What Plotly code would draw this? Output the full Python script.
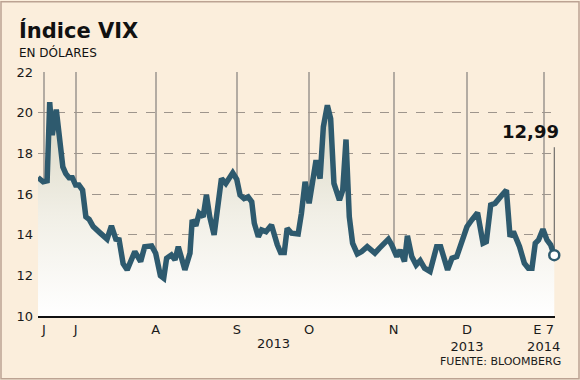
import plotly.graph_objects as go

# Trading-day index (from mid-June 2013) and VIX close values
day = [0.0, 1.4, 2.5, 3.2, 3.9, 5.0, 6.8, 7.6, 8.5, 9.4, 10.3, 11.2, 12.2, 13.1, 14.0,
       15.1, 16.9, 18.9, 20.1, 21.3, 22.2, 23.3, 24.4, 26.5, 28.1, 29.2, 31.1, 32.2,
       33.5, 34.4, 35.2, 36.5, 37.5, 38.4, 40.2, 41.6, 42.2, 43.2, 44.1, 45.2, 46.1,
       47.0, 48.2, 49.3, 50.2, 51.4, 52.1, 53.3, 54.4, 55.3, 56.4, 57.5, 58.5, 59.2,
       60.3, 61.2, 62.4, 63.9, 65.5, 66.4, 67.4, 68.2, 69.4, 70.3, 71.2, 72.1, 73.1,
       74.2, 75.3, 76.1, 77.2, 78.1, 79.2, 80.1, 81.0, 82.5, 83.4, 84.3, 85.2, 86.1,
       87.4, 88.6, 90.1, 91.3, 92.2, 93.4, 94.5, 95.9, 96.8, 98.2, 99.1, 100.3, 101.1,
       102.3, 103.5, 104.6, 105.8, 107.3, 109.1, 110.2, 112.1, 113.3, 114.6, 116.0,
       117.4, 118.7, 120.3, 121.8, 122.7, 123.9, 125.1, 127.0, 128.2, 129.2, 130.1,
       131.8, 133.1, 134.2, 135.2, 136.1, 137.0, 138.2, 139.3, 140.3, 141.3]
vix = [16.81, 16.60, 16.65, 20.52, 18.90, 20.15, 17.33, 17.00, 16.80, 16.80, 16.44,
       16.44, 16.19, 14.88, 14.75, 14.40, 14.10, 13.78, 14.43, 13.78, 13.75, 12.57,
       12.27, 13.17, 12.68, 13.41, 13.45, 13.09, 11.98, 11.86, 12.84, 13.00, 12.76,
       13.41, 12.27, 13.09, 14.72, 14.43, 15.05, 14.88, 15.95, 14.88, 13.99, 15.54,
       16.76, 16.52, 16.72, 17.04, 16.72, 15.95, 15.78, 15.86, 15.62, 14.56, 13.90,
       14.23, 14.15, 14.48, 13.50, 13.12, 13.12, 14.31, 14.07, 14.03, 14.03, 15.05,
       16.60, 15.54, 16.76, 17.66, 16.76, 19.30, 20.36, 19.70, 16.52, 15.70, 16.19,
       18.68, 14.88, 13.58, 13.05, 13.17, 13.41, 13.17, 13.09, 13.33, 13.50, 13.78,
       13.50, 12.92, 13.25, 12.68, 13.94, 12.92, 12.51, 12.72, 12.35, 12.19, 13.41,
       13.41, 12.27, 12.84, 12.92, 13.58, 14.39, 14.72, 15.08, 13.58, 13.66, 15.46,
       15.54, 15.95, 16.19, 13.90, 14.15, 13.41, 12.60, 12.35, 12.35, 13.58, 13.74,
       14.27, 13.74, 13.50, 12.99]

month_ticks = [1.6, 10.3, 32.2, 54.4, 74.2, 97.3, 117.4, 138.4]
month_labels = ["J", "J", "A", "S", "O", "N", "D<br>2013", "E 7<br>2014"]
y_ticks = [10, 12, 14, 16, 18, 20, 22]
last_label = "12,99"

BG = "#FBEEDC"
LINE = "#2E5A6E"
FONT = "DejaVu Sans"

fig = go.Figure()
fig.add_trace(go.Scatter(
    x=day, y=vix, mode="lines", fill="tozeroy",
    line=dict(color=LINE, width=5.5, shape="linear"),
    fillgradient=dict(type="vertical", start=10, stop=21,
                      colorscale=[[0, "#FFFFFF"], [0.45, "#F1EFE6"], [1, "#D6D3BE"]]),
    hoverinfo="skip", showlegend=False,
))
fig.add_trace(go.Scatter(
    x=[day[-1]], y=[vix[-1]], mode="markers", cliponaxis=False,
    marker=dict(size=10, color="white", line=dict(color=LINE, width=2.5)),
    showlegend=False, hoverinfo="skip",
))

L, R, T, B = 38, 25, 71.5, 64
W, H = 580, 380
pw, ph = W - L - R, H - T - B

fig.update_layout(
    width=W, height=H,
    margin=dict(l=L, r=R, t=T, b=B, autoexpand=False),
    paper_bgcolor=BG, plot_bgcolor=BG,
    font=dict(family=FONT, size=13, color="#1A1A1A"),
    xaxis=dict(range=[0, 141.5], tickvals=month_ticks, ticktext=month_labels,
               showgrid=True, gridcolor="#B3ABA2", gridwidth=1.5, automargin=False,
               showline=True, linecolor="#111111", linewidth=2,
               ticks="", zeroline=False, tickfont=dict(size=13)),
    yaxis=dict(range=[10, 22], tickvals=y_ticks, showgrid=True, automargin=False,
               gridcolor="#9E958C", gridwidth=1, griddash="dash",
               zeroline=False, showline=False, ticks="", ticklabelstandoff=4,
               tickfont=dict(size=13)),
    shapes=[
        dict(type="rect", xref="paper", yref="paper",
             x0=-(L - 1) / pw, x1=1 + (R - 1) / pw,
             y0=-(B - 1) / ph, y1=1 + (T - 1) / ph,
             line=dict(color="#BCA393", width=1.5), fillcolor="rgba(0,0,0,0)"),
        dict(type="line", xref="x", yref="y", x0=day[-1], x1=day[-1],
             y0=vix[-1], y1=18.3, line=dict(color="#555555", width=1), layer="below"),
    ],
    annotations=[
        dict(text="<b>Índice VIX</b>", xref="paper", yref="paper",
             x=-(L - 17) / pw, y=1 + (T - 30) / ph, xanchor="left", yanchor="middle",
             showarrow=False, font=dict(size=21, color="#111111", family=FONT)),
        dict(text="EN DÓLARES", xref="paper", yref="paper",
             x=-(L - 17) / pw, y=1 + (T - 52) / ph, xanchor="left", yanchor="middle",
             showarrow=False, font=dict(size=12, color="#111111", family=FONT)),
        dict(text="2013", xref="paper", yref="paper",
             x=(273 - L) / pw, y=-(344 - (H - B)) / ph, xanchor="center", yanchor="middle",
             showarrow=False, font=dict(size=13, color="#1A1A1A", family=FONT)),
        dict(text="FUENTE: BLOOMBERG", xref="paper", yref="paper",
             x=1 + (563 - (W - R)) / pw, y=-(362 - (H - B)) / ph, xanchor="right",
             yanchor="middle", showarrow=False,
             font=dict(size=11, color="#1A1A1A", family=FONT)),
        dict(text="<b>" + last_label + "</b>", xref="x", yref="y",
             x=day[-1], y=18.3, xanchor="right", yanchor="bottom", xshift=7, yshift=3,
             showarrow=False, font=dict(size=18, color="#111111", family=FONT)),
    ],
)

fig.write_html("out.html", config={"displayModeBar": False},
               post_script="document.body.style.margin='0';document.body.style.overflow='hidden';")
